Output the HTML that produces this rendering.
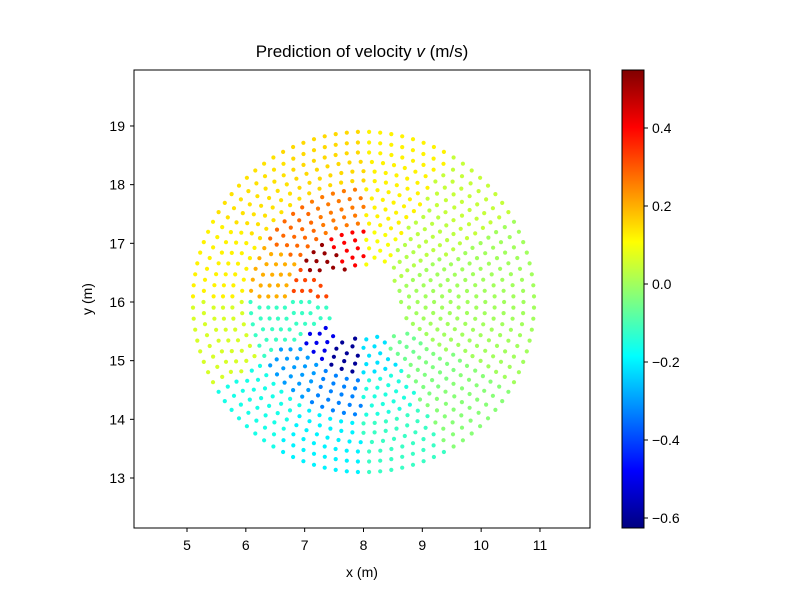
<!DOCTYPE html>
<html><head><meta charset="utf-8"><style>
html,body{margin:0;padding:0;background:#fff;}
svg{display:block;font-family:"Liberation Sans","DejaVu Sans",sans-serif;}
</style></head><body>
<svg id="chart" width="793" height="594" viewBox="0 0 793 594">
<defs>
<linearGradient id="jet" x1="0" y1="1" x2="0" y2="0">
<stop offset="0" stop-color="#000080"/><stop offset="0.125" stop-color="#0000ff"/>
<stop offset="0.375" stop-color="#00ffff"/><stop offset="0.625" stop-color="#ffff00"/>
<stop offset="0.875" stop-color="#ff0000"/><stop offset="1" stop-color="#800000"/>
</linearGradient>
</defs>
<rect x="0" y="0" width="793" height="594" fill="#fff"/>
<g id="points"></g>
<rect x="134" y="70" width="456" height="458" fill="none" stroke="#000" stroke-width="1"/>
<g id="xticks"></g>
<g id="yticks"></g>
<text x="362" y="57" text-anchor="middle" font-size="17">Prediction of velocity <tspan font-style="italic">v</tspan> (m/s)</text>
<text x="362" y="577" text-anchor="middle" font-size="14">x (m)</text>
<text x="0" y="0" transform="translate(92,299) rotate(-90)" text-anchor="middle" font-size="14">y (m)</text>
<rect x="622" y="70" width="22" height="458" fill="url(#jet)" stroke="#000" stroke-width="1"/>
<g id="cticks"></g>
</svg>
<script>
const xTicks = [5, 6, 7, 8, 9, 10, 11];
const yTicks = [13, 14, 15, 16, 17, 18, 19];
const cTicks = [-0.6, -0.4, -0.2, 0.0, 0.2, 0.4];
const cTickLabels = ["\u22120.6", "\u22120.4", "\u22120.2", "0.0", "0.2", "0.4"];
const center = [8.0, 16.0];
const ringRadii = [0.64, 0.78, 0.92, 1.06, 1.2, 1.34, 1.48, 1.62, 1.77, 1.92, 2.07, 2.23, 2.39, 2.55, 2.72, 2.9];
// velocity per angular sector (30° each, from +x counterclockwise); inner, mid, outer bands
const sectorValsInner = [0.0, 0.02, 0.1, 0.4, 0.52, 0.32, -0.12, -0.5, -0.6, -0.22, -0.06, 0.0];
const sectorValsMid = [0.0, 0.03, 0.12, 0.26, 0.28, 0.2, -0.12, -0.3, -0.33, -0.15, -0.04, 0.0];
const sectorValsOuter = [0.0, 0.04, 0.12, 0.15, 0.14, 0.12, 0.06, -0.16, -0.2, -0.12, -0.03, 0.0];
const cMin = -0.626, cMax = 0.546;

const X = v => 187 + (v - 5) * 58.83;
const Y = v => 478 - (v - 13) * 58.67;
const C = v => 518 - (v + 0.6) * 390;
const NS = "http://www.w3.org/2000/svg";

function jet(t) {
  t = Math.max(0, Math.min(1, t));
  const r = Math.max(0, Math.min(1, 1.5 - Math.abs(4 * t - 3)));
  const g = Math.max(0, Math.min(1, 1.5 - Math.abs(4 * t - 2)));
  const b = Math.max(0, Math.min(1, 1.5 - Math.abs(4 * t - 1)));
  return `rgb(${Math.round(r*255)},${Math.round(g*255)},${Math.round(b*255)})`;
}
function mk(tag, attrs, parent) {
  const el = document.createElementNS(NS, tag);
  for (const k in attrs) el.setAttribute(k, attrs[k]);
  parent.appendChild(el);
  return el;
}

const pts = document.getElementById("points");
const rot = 12 * Math.PI / 180;
ringRadii.forEach((r, ri) => {
  const band = ri < 5 ? sectorValsInner : (ri < 10 ? sectorValsMid : sectorValsOuter);
  const n = Math.round(2 * Math.PI * r / 0.19);
  for (let k = 0; k < n; k++) {
    const a = (k + 0.5 * (ri % 2)) / n * 2 * Math.PI;
    const px = center[0] + r * Math.cos(a), py = center[1] + r * Math.sin(a);
    const dx = px - center[0], dy = py - center[1];
    const qx = dx * Math.cos(rot) + dy * Math.sin(rot), qy = -dx * Math.sin(rot) + dy * Math.cos(rot);
    if (Math.abs(qx) < 0.58 && Math.abs(qy) < 0.58) continue;
    const sec = Math.floor(a / (Math.PI / 6)) % 12;
    const v = band[sec];
    const c = mk("circle", {cx: X(px).toFixed(1), cy: Y(py).toFixed(1), r: 2.1, fill: jet((v - cMin) / (cMax - cMin))}, pts);
    
    
  }
});

const xg = document.getElementById("xticks");
xTicks.forEach(v => {
  const l = mk("line", {x1: X(v), x2: X(v), y1: 528, y2: 532, stroke: "#000"}, xg);
  
  
  const t = mk("text", {x: X(v), y: 550, "text-anchor": "middle", "font-size": 14}, xg);
  t.textContent = v;
  
  
});
const yg = document.getElementById("yticks");
yTicks.forEach(v => {
  const l = mk("line", {x1: 130, x2: 134, y1: Y(v), y2: Y(v), stroke: "#000"}, yg);
  
  
  const t = mk("text", {x: 125, y: Y(v) + 5, "text-anchor": "end", "font-size": 14}, yg);
  t.textContent = v;
  
  
});
const cg = document.getElementById("cticks");
cTicks.forEach((v, i) => {
  const l = mk("line", {x1: 644, x2: 648, y1: C(v), y2: C(v), stroke: "#000"}, cg);
  
  
  const t = mk("text", {x: 652, y: C(v) + 5, "font-size": 14}, cg);
  t.textContent = cTickLabels[i];
  
  
});
</script>
</body></html>
